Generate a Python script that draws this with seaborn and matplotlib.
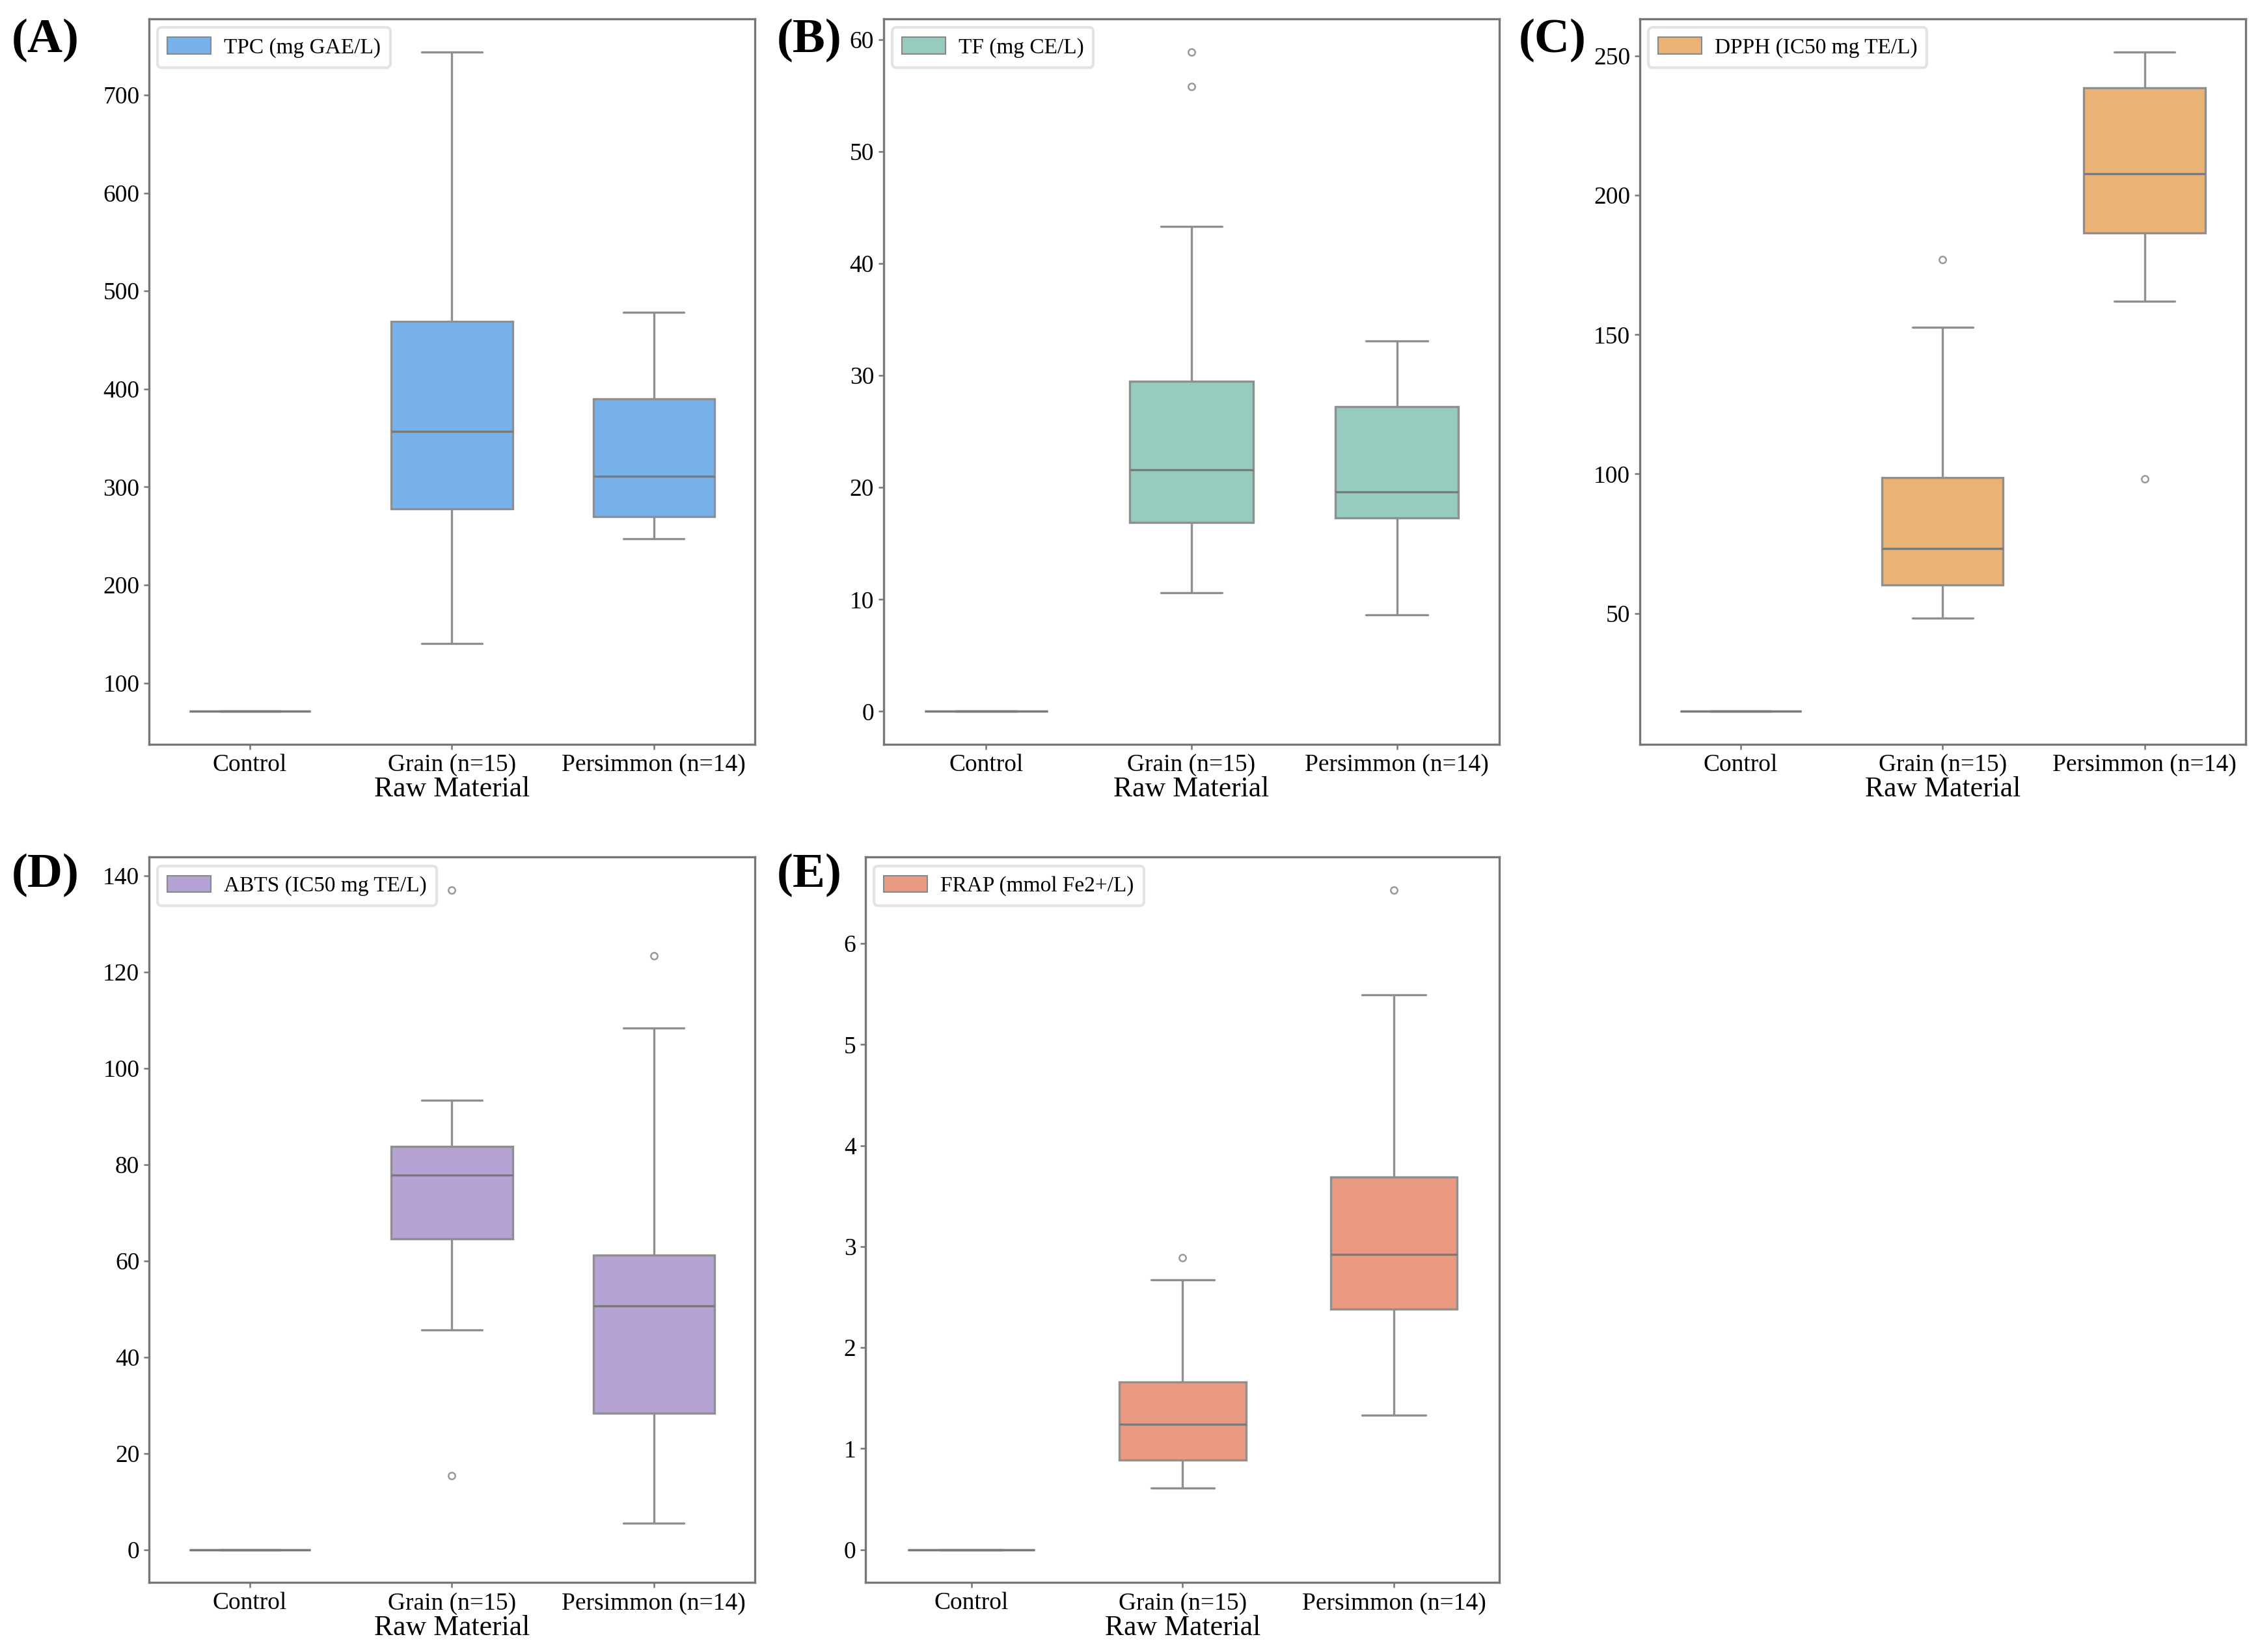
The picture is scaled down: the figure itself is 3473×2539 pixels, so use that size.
import pandas as pd
import seaborn as sns
import matplotlib.pyplot as plt
from matplotlib.patches import Patch

groups = ['Control', 'Grain (n=15)', 'Persimmon (n=14)']

# TPC (mg GAE/L)
tpc_control = [71]
tpc_grain = [140, 205, 252, 272, 284, 301, 330, 357, 388, 425, 462, 476, 560, 640, 744]
tpc_persimmon = [247, 255, 262, 268, 276, 290, 305, 317, 345, 378, 394, 420, 452, 478]

# TF (mg CE/L)
tf_control = [0]
tf_grain = [10.6, 13.4, 15.1, 16.2, 17.6, 19.0, 20.3, 21.6, 24.5, 26.8, 28.6, 30.4, 43.3, 55.8, 58.9]
tf_persimmon = [8.6, 12.4, 15.3, 17.0, 18.2, 18.6, 19.0, 20.2, 23.5, 26.0, 27.6, 29.4, 31.0, 33.1]

# DPPH (IC50 mg TE/L)
dpph_control = [14.8]
dpph_grain = [48.3, 52.1, 55.6, 58.9, 61.5, 65.4, 69.8, 73.3, 78.5, 86.0, 95.2, 102.2, 118.4, 152.7, 177.0]
dpph_persimmon = [98.3, 162.0, 174.6, 185.0, 191.0, 197.2, 203.5, 212.1, 221.4, 233.7, 240.1, 244.0, 248.2, 251.5]

# ABTS (IC50 mg TE/L)
abts_control = [0]
abts_grain = [15.3, 45.7, 55.4, 62.8, 66.2, 70.1, 74.6, 77.8, 79.3, 81.0, 82.6, 85.0, 88.7, 93.3, 137.0]
abts_persimmon = [5.5, 12.7, 19.8, 26.5, 33.7, 40.6, 48.2, 53.2, 56.3, 58.8, 62.0, 79.5, 108.4, 123.4]

# FRAP (mmol Fe2+/L)
frap_control = [0]
frap_grain = [0.61, 0.70, 0.79, 0.86, 0.92, 1.03, 1.15, 1.24, 1.33, 1.45, 1.58, 1.74, 2.05, 2.67, 2.89]
frap_persimmon = [1.33, 1.86, 2.12, 2.34, 2.50, 2.66, 2.85, 2.99, 3.31, 3.57, 3.73, 4.12, 5.49, 6.53]

panels = [
    ('(A)', 'TPC (mg GAE/L)', '#78B2EA', tpc_control, tpc_grain, tpc_persimmon),
    ('(B)', 'TF (mg CE/L)', '#97CBC0', tf_control, tf_grain, tf_persimmon),
    ('(C)', 'DPPH (IC50 mg TE/L)', '#EBB275', dpph_control, dpph_grain, dpph_persimmon),
    ('(D)', 'ABTS (IC50 mg TE/L)', '#B4A3D3', abts_control, abts_grain, abts_persimmon),
    ('(E)', 'FRAP (mmol Fe2+/L)', '#EA9A80', frap_control, frap_grain, frap_persimmon),
]

# axes rectangles [left, bottom, width, height] and panel letter spots
rects = [
    [0.0659, 0.5494, 0.2681, 0.4392],
    [0.3909, 0.5494, 0.2726, 0.4392],
    [0.7255, 0.5494, 0.2681, 0.4392],
    [0.0659, 0.0420, 0.2681, 0.4392],
    [0.3830, 0.0420, 0.2805, 0.4392],
]
letter_xy = [(0.005, 0.9755), (0.3436, 0.9755), (0.672, 0.9755), (0.005, 0.470), (0.3436, 0.470)]

sns.set_style('ticks')
plt.rcParams['font.family'] = ['Liberation Serif', 'DejaVu Serif']
plt.rcParams['text.color'] = 'black'
plt.rcParams['axes.labelcolor'] = 'black'
plt.rcParams['xtick.labelcolor'] = 'black'
plt.rcParams['ytick.labelcolor'] = 'black'

fig = plt.figure(figsize=(3473 / 300, 2539 / 300), dpi=300)

for (letter, name, col, c, g, p), r, (lx, ly) in zip(panels, rects, letter_xy):
    df = pd.DataFrame({
        'Raw Material': [groups[0]] * len(c) + [groups[1]] * len(g) + [groups[2]] * len(p),
        'Value': c + g + p,
    })
    ax = fig.add_axes(r)
    sns.boxplot(data=df, x='Raw Material', y='Value', order=groups, color=col,
                saturation=1, width=0.6, linewidth=0.8, linecolor='#8f8f8f',
                medianprops=dict(color='#7a7a7a'),
                flierprops=dict(marker='o', markersize=2.5, markeredgewidth=0.6,
                                markeredgecolor='#999999'), ax=ax)
    ax.set_ylabel(None)
    ax.set_xlabel('Raw Material', fontsize=10.5, labelpad=0)
    ax.tick_params(axis='both', labelsize=9, length=2, width=0.6, color='#777777', pad=1.5)
    for s in ax.spines.values():
        s.set_visible(True)
        s.set_color('#777777')
        s.set_linewidth(0.8)
    ax.legend(handles=[Patch(facecolor=col, edgecolor='#888888', linewidth=0.5, label=name)],
              loc='upper left', fontsize=8, frameon=True, framealpha=0.8,
              edgecolor='#dddddd', handlelength=2.0, handleheight=0.8,
              handletextpad=0.6, borderpad=0.45, borderaxespad=0.4)
    fig.text(lx, ly, letter, fontsize=18, fontweight='bold', ha='left', va='center')

plt.savefig('out.png', dpi=300)
